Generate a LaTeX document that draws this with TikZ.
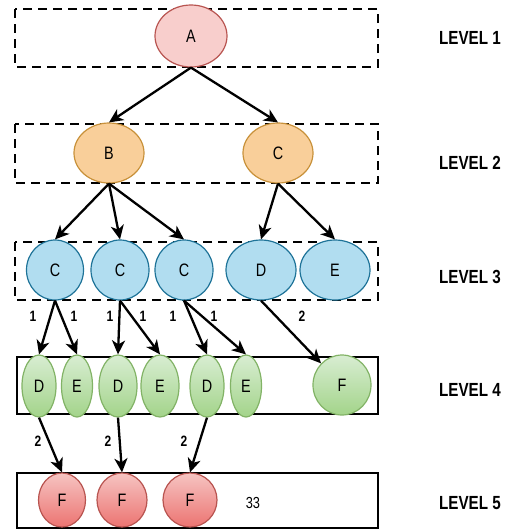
\documentclass[tikz,border=0pt]{standalone}
\usepackage{fontspec}
\setmainfont{Liberation Sans}
\newfontfamily\narrowsans[FakeStretch=0.8]{Liberation Sans}
\usetikzlibrary{shapes.geometric,arrows.meta}

\definecolor{pinkfill}{HTML}{F8CECC}
\definecolor{pinkline}{HTML}{B85450}
\definecolor{orangefill}{HTML}{F9CF9A}
\definecolor{orangeline}{HTML}{C8913A}
\definecolor{bluefill}{HTML}{B1DDF0}
\definecolor{blueline}{HTML}{1E7398}
\definecolor{greentop}{HTML}{D8EDD2}
\definecolor{greenbot}{HTML}{A3D48A}
\definecolor{greenline}{HTML}{82B366}
\definecolor{redtop}{HTML}{F6C4C2}
\definecolor{redbot}{HTML}{EC7471}

\tikzset{
  vertex/.style={ellipse, inner sep=0pt, line width=1.2pt,
    font=\narrowsans\fontsize{18}{18}\selectfont},
  lvA/.style={vertex, draw=pinkline, fill=pinkfill},
  lvB/.style={vertex, draw=orangeline, fill=orangefill},
  lvC/.style={vertex, draw=blueline, fill=bluefill},
  lvD/.style={vertex, draw=greenline, top color=greentop, bottom color=greenbot},
  lvE/.style={vertex, draw=pinkline, top color=redtop, bottom color=redbot},
  dashbox/.style={draw, line width=2pt, dash pattern=on 9pt off 6pt},
  solidbox/.style={draw, line width=2pt},
  link/.style={line width=2.3pt, -{Stealth[length=14pt,width=13pt,inset=4pt]}},
  weight/.style={font=\narrowsans\bfseries\fontsize{15}{15}\selectfont, inner sep=0pt},
  levelname/.style={font=\narrowsans\bfseries\fontsize{19}{19}\selectfont, inner sep=0pt}
}

\begin{document}
\begin{tikzpicture}[x=1pt, y=-1pt]
\useasboundingbox (0,0) rectangle (515,531);

% level frames
\draw[dashbox] (15,9) rectangle (378,67);
\draw[dashbox] (15,124) rectangle (378,183);
\draw[dashbox] (15,242) rectangle (378,300);
\draw[solidbox] (17,357) rectangle (378,414);
\draw[solidbox] (17,473) rectangle (378,528);

% level 1
\node[lvA, minimum width=72pt, minimum height=62pt] (A) at (191,36) {A};

% level 2
\node[lvB, minimum width=70pt, minimum height=60pt] (B) at (109,153) {B};
\node[lvB, minimum width=70pt, minimum height=60pt] (C) at (278,153) {C};

% level 3
\node[lvC, minimum width=57pt, minimum height=60pt] (Ca) at (55,270) {C};
\node[lvC, minimum width=58pt, minimum height=60pt] (Cb) at (120,270) {C};
\node[lvC, minimum width=58pt, minimum height=60pt] (Cc) at (184,270) {C};
\node[lvC, minimum width=70pt, minimum height=60pt] (Dm) at (261,270) {D};
\node[lvC, minimum width=70pt, minimum height=60pt] (Em) at (335,270) {E};

% level 4
\node[lvD, minimum width=34pt, minimum height=62pt] (Da) at (39,386) {D};
\node[lvD, minimum width=31pt, minimum height=62pt] (Ea) at (77,386) {E};
\node[lvD, minimum width=38pt, minimum height=62pt] (Db) at (118,386) {D};
\node[lvD, minimum width=38pt, minimum height=62pt] (Eb) at (160,386) {E};
\node[lvD, minimum width=34pt, minimum height=62pt] (Dc) at (207,386) {D};
\node[lvD, minimum width=31pt, minimum height=62pt] (Ec) at (246,386) {E};
\node[lvD, minimum width=58pt, minimum height=60pt] (Fm) at (342,385) {F};

% level 5
\node[lvE, minimum width=47pt, minimum height=54pt] (Fa) at (62,500) {F};
\node[lvE, minimum width=50pt, minimum height=54pt] (Fb) at (122,500) {F};
\node[lvE, minimum width=54pt, minimum height=54pt] (Fc) at (190,500) {F};
\node[font=\narrowsans\fontsize{16}{16}\selectfont, inner sep=0pt] (total) at (253,503) {33};

% connectors
\draw[link] (A.south) -- (B.north);
\draw[link] (A.south) -- (C.north);
\draw[link] (B.south) -- (Ca.north);
\draw[link] (B.south) -- (Cb.north);
\draw[link] (B.south) -- (Cc.north);
\draw[link] (C.south) -- (Dm.north);
\draw[link] (C.south) -- (Em.north);
\draw[link] (Ca.south) -- (Da.north);
\draw[link] (Ca.south) -- (Ea.north);
\draw[link] (Cb.south) -- (Db.north);
\draw[link] (Cb.south) -- (Eb.north);
\draw[link] (Cc.south) -- (Dc.north);
\draw[link] (Cc.south) -- (Ec.north);
\draw[link] (Dm.south) -- (Fm.north west);
\draw[link] (Da.south) -- (Fa.north);
\draw[link] (Db.south) -- (Fb.north);
\draw[link] (Dc.south) -- (Fc.north);

% edge weights
\node[weight] (w1) at (33,316) {1};
\node[weight] (w2) at (74,316) {1};
\node[weight] (w3) at (110,316) {1};
\node[weight] (w4) at (143,316) {1};
\node[weight] (w5) at (173,316) {1};
\node[weight] (w6) at (214,316) {1};
\node[weight] (w7) at (302,316) {2};
\node[weight] (w8) at (38,441) {2};
\node[weight] (w9) at (108,441) {2};
\node[weight] (w10) at (184,441) {2};

% level names
\node[levelname] (n1) at (470,38) {LEVEL 1};
\node[levelname] (n2) at (470,163) {LEVEL 2};
\node[levelname] (n3) at (470,277) {LEVEL 3};
\node[levelname] (n4) at (470,390) {LEVEL 4};
\node[levelname] (n5) at (470,503) {LEVEL 5};
\end{tikzpicture}
\end{document}
